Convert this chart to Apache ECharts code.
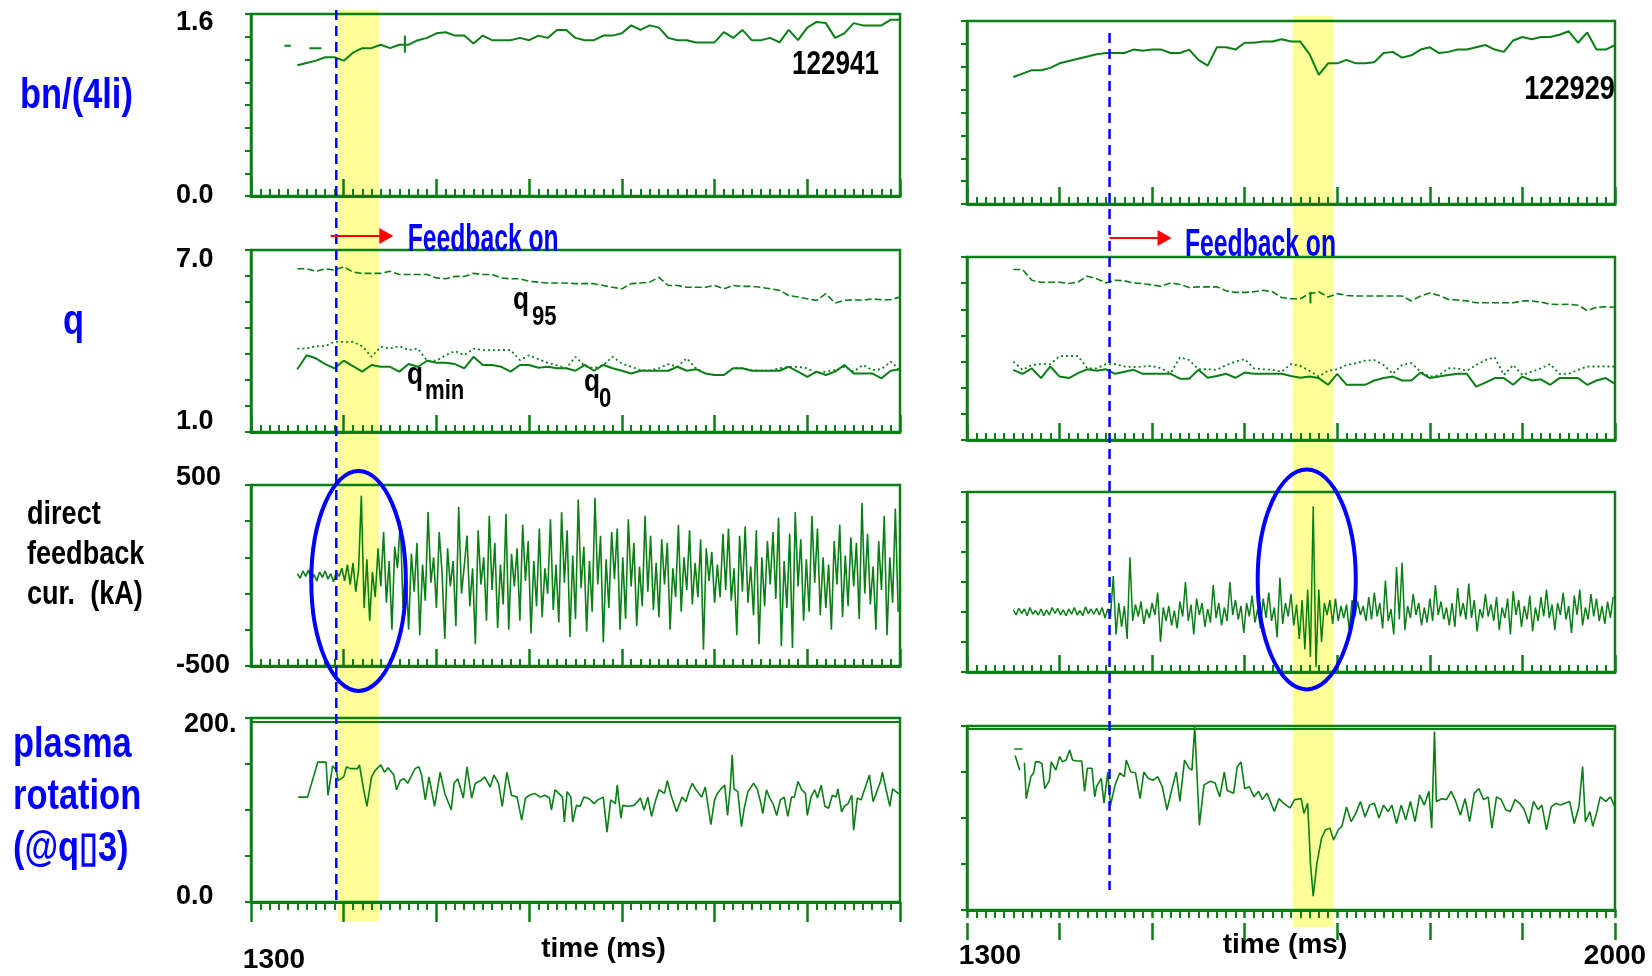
<!DOCTYPE html>
<html>
<head>
<meta charset="utf-8">
<title>Feedback on - shots 122941 / 122929</title>
<script src="https://cdn.jsdelivr.net/npm/echarts@6/dist/echarts.min.js"></script>
<style>
  html, body { margin: 0; padding: 0; background: #fff; }
  #main { width: 1652px; height: 976px; }
</style>
</head>
<body>
<div id="main"></div>
<script>
// ---- data ----
const SLOW_START = 1350, SLOW_STEP = 10;   // profile signals (ms)
const FAST_START = 1350, FAST_STEP = 3;    // feedback current (ms)

const shotLeft = '122941';
const shotRight = '122929';

const bnLeft = [1.15,1.17,1.19,1.22,1.22,1.19,1.26,1.30,1.30,1.33,
  1.30,1.33,1.33,1.37,1.39,1.43,1.44,1.41,1.41,1.34,
  1.41,1.37,1.37,1.37,1.39,1.37,1.41,1.39,1.46,1.46,
  1.39,1.37,1.37,1.41,1.41,1.43,1.50,1.46,1.50,1.48,
  1.39,1.37,1.37,1.35,1.35,1.35,1.44,1.39,1.46,1.37,
  1.37,1.39,1.35,1.46,1.37,1.48,1.53,1.52,1.39,1.43,
  1.52,1.50,1.50,1.50,1.55,1.55];
const bnLeftAltT = [1336,1343,null,1363,1376];
const bnLeftAltV = [1.32,1.32,null,1.30,1.30];
const bnLeftCrossT = [1466,1466];
const bnLeftCrossV = [1.26,1.41];

const bnRight = [1.11,1.14,1.17,1.17,1.19,1.23,1.25,1.27,1.29,1.31,
  1.32,1.32,1.32,1.35,1.34,1.35,1.35,1.32,1.32,1.35,
  1.26,1.21,1.37,1.37,1.35,1.41,1.41,1.42,1.42,1.44,
  1.42,1.42,1.31,1.13,1.23,1.23,1.26,1.23,1.23,1.24,
  1.32,1.33,1.28,1.30,1.35,1.37,1.32,1.33,1.35,1.35,
  1.37,1.39,1.35,1.33,1.43,1.46,1.44,1.46,1.46,1.48,
  1.51,1.41,1.50,1.35,1.35,1.39];

const q95Left = [6.38,6.38,6.30,6.38,6.34,6.45,6.27,6.23,6.23,6.23,
  6.30,6.19,6.19,6.19,6.19,6.08,6.05,6.13,6.13,6.23,
  6.19,6.19,6.08,6.05,6.05,5.97,5.94,5.91,5.91,5.91,
  5.89,5.89,5.89,5.83,5.77,5.72,5.89,5.91,5.94,6.10,
  5.83,5.83,5.77,5.77,5.77,5.83,5.72,5.83,5.80,5.80,
  5.77,5.72,5.67,5.50,5.45,5.39,5.34,5.56,5.25,5.34,
  5.36,5.34,5.39,5.36,5.36,5.45];
const q0Left = [3.75,3.75,3.83,3.83,3.97,3.97,3.97,3.83,3.48,3.81,
  3.75,3.83,3.70,3.75,3.35,3.35,3.53,3.67,3.53,3.75,
  3.70,3.70,3.70,3.70,3.37,3.53,3.40,3.28,3.20,3.10,
  3.48,3.17,3.10,3.21,3.48,3.26,3.15,3.04,3.04,3.10,
  3.24,3.15,3.43,3.10,2.93,2.88,2.88,3.10,3.10,3.04,
  3.02,3.02,3.10,3.15,3.15,3.10,2.93,2.99,3.04,3.15,
  2.99,3.21,3.04,3.07,3.32,3.04];
const qminLeft = [3.07,3.53,3.43,3.24,3.10,3.35,3.17,2.99,3.21,3.15,
  3.15,2.99,3.24,3.15,3.35,3.28,3.28,3.24,3.10,3.48,
  3.21,3.21,3.15,2.99,3.21,3.21,3.12,3.15,3.10,3.10,
  3.02,3.21,3.02,3.21,3.10,3.02,2.93,3.02,3.02,3.02,
  3.02,3.15,3.02,3.07,2.93,2.88,2.88,3.10,3.10,3.02,
  3.02,3.02,3.02,3.15,2.99,2.82,2.99,2.88,2.99,3.21,
  2.93,2.93,2.93,2.77,3.02,3.07];

const q95Right = [6.59,6.59,6.24,6.17,6.17,6.17,6.13,6.18,6.37,6.29,
  6.15,6.24,6.22,6.15,6.13,6.08,6.04,6.15,6.10,6.00,
  6.02,6.02,6.02,5.89,5.84,5.84,5.86,5.91,5.86,5.67,
  5.63,5.63,5.80,5.86,5.69,5.80,5.74,5.72,5.72,5.72,
  5.72,5.72,5.72,5.56,5.72,5.82,5.74,5.61,5.59,5.56,
  5.50,5.50,5.50,5.50,5.50,5.56,5.56,5.52,5.45,5.44,
  5.45,5.42,5.24,5.35,5.37,5.35];
const q95RightMarkT = [1671,1671];
const q95RightMarkV = [5.48,5.86];
const q0Right = [3.57,3.30,3.46,3.49,3.49,3.75,3.75,3.75,3.35,3.35,
  3.49,3.49,3.41,3.39,3.41,3.43,3.35,3.19,3.71,3.62,
  3.32,3.32,3.30,3.46,3.57,3.65,3.35,3.32,3.30,3.24,
  3.49,3.43,3.27,3.08,3.27,3.32,3.46,3.52,3.60,3.62,
  3.46,3.17,3.46,3.52,3.24,3.08,3.13,3.35,3.35,3.27,
  3.46,3.62,3.71,3.13,3.46,3.13,3.24,3.35,3.49,3.17,
  3.17,3.30,3.41,3.41,3.41,3.41];
const qminRight = [3.30,3.17,3.35,3.03,3.41,3.08,3.03,3.19,3.32,3.27,
  3.32,3.17,3.24,3.30,3.17,3.17,3.17,3.17,3.01,3.01,
  3.30,3.04,3.10,3.17,3.04,3.21,3.17,3.17,3.17,3.17,
  3.10,3.04,3.08,3.03,2.81,3.17,2.81,2.81,2.81,2.95,
  3.03,3.08,2.95,2.95,3.21,3.03,3.08,3.13,3.17,3.17,
  2.75,2.88,3.03,3.03,2.81,3.08,2.95,2.99,2.81,3.03,
  3.03,3.03,2.81,2.95,3.03,2.84];

const curLeft = [10,-15,25,-5,30,-25,5,-30,20,-10,
  25,-20,10,-35,20,-5,40,-30,60,-50,
  70,-90,30,440,-180,90,-250,20,-120,150,
  -60,240,-150,80,-300,160,40,300,-180,60,
  -300,120,-90,180,-330,60,-140,350,-40,100,
  -180,240,20,-350,150,-60,80,-280,380,-100,
  50,220,-170,40,-380,250,-50,100,-250,330,
  -80,180,-290,60,-160,340,-300,120,-60,150,
  -250,280,-30,190,-320,80,-170,260,-230,40,
  -100,310,-190,60,-260,350,-40,250,-340,110,
  -240,420,-70,160,-310,80,-200,430,-50,220,
  -370,90,-180,240,-20,260,-300,100,-240,310,
  -60,180,-280,50,-170,330,-90,220,-190,70,
  -230,200,-50,180,-300,40,-120,280,-200,100,
  -80,250,-160,70,-120,200,-410,150,-30,130,
  -150,60,-120,230,-80,260,-140,40,-330,220,
  -90,270,-150,50,-220,250,-380,100,-170,190,
  -50,240,-130,320,-390,80,-180,230,-400,350,
  -60,200,-250,90,-200,330,-40,260,-220,100,
  -180,60,-300,190,-50,280,-230,110,-170,210,
  -60,180,-240,400,-100,230,-160,50,-300,190,
  -80,330,-330,100,-150,370,-200];
const curRight = [15,-20,25,-10,20,-25,30,-15,10,-20,
  20,-25,15,-20,30,-10,25,-20,15,-25,
  20,-15,30,-20,10,-25,35,-10,20,-15,
  25,-20,30,-40,20,-30,239,-150,60,-100,
  40,-180,364,-60,50,-30,70,-80,20,-40,
  60,-20,130,-200,30,-60,40,-90,10,-110,
  70,-30,200,-60,50,-150,90,-20,60,-100,
  20,-70,180,-40,60,-90,30,-60,200,-20,
  80,-50,40,-140,60,-30,110,-70,20,-110,
  90,-40,130,-60,30,-170,230,-80,60,-30,
  120,-90,50,-180,80,-250,150,-300,705,-368,
  150,-200,60,-20,80,-80,90,-60,40,-40,
  50,-120,80,-30,70,-20,40,-60,100,-50,
  130,-30,60,-110,210,-60,20,-150,300,-50,
  330,-120,40,-40,120,-20,60,-90,30,-70,
  90,-60,180,-20,70,-50,30,-90,60,-100,
  160,-30,60,-50,190,-40,80,-130,20,-40,
  120,-30,50,-60,100,-120,30,-40,90,-150,
  140,-20,80,-100,40,-50,110,-130,30,-60,
  100,-30,150,-40,50,-120,60,-20,130,-50,
  40,-140,110,-20,150,-90,30,-50,120,-30,
  90,-60,40,-80,70,-40,100];

const rotLeftT = [1351,1361,1372,1381,1383,1388,1392,1394,1400,1403,
  1407,1415,1417,1421,1425,1430,1434,1440,1444,1448,
  1454,1457,1461,1465,1469,1477,1481,1484,1488,1492,
  1498,1504,1509,1516,1519,1523,1529,1533,1538,1542,
  1548,1552,1558,1562,1567,1571,1576,1581,1587,1592,
  1596,1600,1606,
  1612,1617,1622,1624,1628,1632,1636,1638,1641,1645,
  1647,1651,1655,1659,1663,1666,1670,1674,1680,1684,
  1688,1693,1695,1699,1701,1707,1713,1717,1720,1724,
  1728,1732,1736,1740,1746,1749,1753,1759,1765,1769,
  1773,1776,1780,1786,1790,1796,1800,1803,1807,1811,
  1814,1817,1819,1821,1825,1829,1832,1836,1842,1846,
  1850,1852,1856,1859,1863,1867,1871,1875,1879,1883,
  1886,1890,1894,1898,1900,1904,1908,1911,1915,1919,
  1923,1927,1931,1933,1937,1940,1944,1948,1950,1954,
  1958,1964,1967,1971,1975,1979,1981,1985,1989,1992,
  1998,2000];
const rotLeftV = [114,114,152,152,116,148,143,132,136,147,
  145,145,149,125,104,136,143,149,141,146,
  138,122,132,134,129,145,147,138,111,136,
  104,141,118,100,129,134,113,147,113,129,
  132,136,125,138,129,104,141,116,114,89,
  113,116,118,
  114,116,113,100,122,118,114,87,120,114,
  87,105,104,114,113,111,107,111,114,76,
  111,107,127,91,105,104,105,109,113,100,
  114,93,109,122,118,132,116,98,114,109,
  122,129,122,114,125,84,111,118,123,127,
  94,125,160,123,120,82,102,120,129,123,
  107,96,122,114,107,94,111,114,93,114,
  114,131,122,118,94,114,122,113,127,104,
  102,116,114,123,98,104,107,116,78,113,
  111,129,138,109,120,131,141,122,104,123,
  118,118];

const rotRightHeadT = [1351,1360,null,1352,1357];
const rotRightHeadV = [175,175,null,168,152];
const rotRightT = [1362,1364,1369,1372,1374,1378,1381,1384,1389,1391,
  1396,1400,1403,1407,1411,1414,1418,1424,1427,1430,
  1435,1438,1440,1445,1448,1452,1455,1460,1465,1470,
  1472,1477,1482,1487,1491,1496,1501,1506,1511,1516,
  1521,1526,1530,1535,1540,1543,1546,1548,1551,1556,
  1563,1568,1573,1578,1581,1588,1592,1596,1600,1605,
  1610,1615,1619,1624,1632,1637,1642,1649,1654,1661,
  1664,1668,1671,1674,1678,1683,1687,1692,1696,1701,
  1705,1710,1715,1720,1725,1730,1735,1740,1745,1750,
  1755,1759,1764,1769,1774,1779,1784,1789,1794,1799,
  1802,1805,1807,1813,1818,1823,1828,1833,1838,1843,
  1848,1853,1858,1863,1867,1872,1877,1882,1887,1892,
  1897,1902,1907,1912,1917,1921,1926,1931,1936,1941,
  1946,1951,1956,1961,1965,1968,1973,1976,1980,1984,
  1990,1995,2000];
const rotRightV = [160,121,145,149,161,161,159,132,141,161,
  152,167,161,163,174,163,162,162,129,154,
  154,123,134,143,116,150,114,136,149,145,
  163,150,149,121,150,143,141,145,134,109,
  130,150,118,163,154,152,199,199,92,136,
  140,138,123,150,130,127,156,161,132,134,
  123,129,120,127,107,121,116,111,120,121,
  105,116,51,15,51,78,87,89,76,87,
  91,112,96,105,118,101,114,116,100,114,
  107,114,94,114,98,118,96,125,114,129,
  89,194,118,121,120,129,118,103,121,96,
  127,132,120,123,89,123,120,109,107,120,
  116,109,94,118,109,114,87,112,116,114,
  116,118,94,112,156,96,107,91,105,123,
  118,123,112];

// axis ticks / labels
const yTicksBn = [0, 0.2, 0.4, 0.6, 0.8, 1.0, 1.2, 1.4, 1.6];
const yTicksQ = [1, 1.857, 2.714, 3.571, 4.429, 5.286, 6.143, 7];
const yTicksCurL = [-500, -300, -100, 100, 300, 500];
const yTicksCurR = [-400, -200, 0, 200, 400, 600, 800];
const yTicksRot = [0, 50, 100, 150, 200];
const yLabelsBn = ['0.0', '1.6'];
const yLabelsQ = ['1.0', '7.0'];
const yLabelsCur = ['-500', '500'];
const yLabelsRot = ['0.0', '200.'];
const xLabelsLeft = [1300];
const xLabelsRight = [1300, 2000];

// annotation times (ms)
const feedbackOnLeft = 1392, feedbackOnRight = 1454;
const bandLeft = [1393.7, 1438], bandRight = [1652, 1696];

// ---- chart ----
const G = '#0a7f15';
const FN = "'Liberation Sans', Arial, Helvetica, sans-serif";
const SQ = 0.82;   // horizontal squeeze used for the narrow lettering

const stepPairs = (vals, start, step) => vals.map((v, i) => [start + i * step, v]);
const pairs = (ts, vs) => ts.map((t, i) => t === null ? [NaN, '-'] : [t, vs[i]]);

const boxes = [
  {left: 251, top: 14, width: 649, height: 182},
  {left: 251, top: 250, width: 649, height: 182},
  {left: 251, top: 485, width: 649, height: 181},
  {left: 251, top: 718, width: 649, height: 184},
  {left: 967, top: 21, width: 648, height: 183},
  {left: 967, top: 257, width: 648, height: 183},
  {left: 967, top: 492, width: 648, height: 180},
  {left: 967, top: 726, width: 648, height: 184}
];
const yRange = [[0, 1.6], [1, 7], [-500, 500], [0, 200], [0, 1.6], [1, 7], [-400, 800], [0, 200]];
const yTickSets = [yTicksBn, yTicksQ, yTicksCurL, yTicksRot, yTicksBn, yTicksQ, yTicksCurR, yTicksRot];
const yLabelSets = [yLabelsBn, yLabelsQ, yLabelsCur, yLabelsRot];
const yLabelPad = [
  {min: [0, 0, 0, 0], max: [17, 0, 0, 0]},
  {min: [0, 0, 20, 0], max: [20, 0, 0, 0]},
  {min: [0, 0, 0, 0], max: [0, 0, 14, 0]},
  {min: [0, 0, 10, 0], max: [14, 0, 0, 8]}
];
const tickText = {fontSize: 27, fontWeight: 'bold', fontFamily: FN, color: '#000'};

const chart = echarts.init(document.getElementById('main'));

const grids = boxes.map(b => Object.assign({
  show: true, borderColor: G, borderWidth: 2.5, outerBoundsMode: 'none'
}, b));

const yAxes = boxes.map((b, i) => {
  const [mn, mx] = yRange[i];
  const ax = {
    type: 'value', gridIndex: i, min: mn, max: mx,
    axisLine: {show: true, lineStyle: {color: G, width: 2.5}},
    axisTick: {show: true, inside: false, length: 6, customValues: yTickSets[i], lineStyle: {color: G, width: 2}},
    splitLine: {show: false},
    axisLabel: {show: false}
  };
  if (i < 4) {
    const names = yLabelSets[i];
    ax.axisLabel = {
      show: true, customValues: [mn, mx], align: 'left', margin: 75,
      formatter: v => v === mx ? '{t|' + names[1] + '}' : '{b|' + names[0] + '}',
      rich: {
        t: Object.assign({padding: yLabelPad[i].max}, tickText),
        b: Object.assign({padding: yLabelPad[i].min}, tickText)
      }
    };
  }
  return ax;
});

const xAxes = boxes.map((b, i) => {
  const bottomRow = i === 3 || i === 7;
  return {
    type: 'value', gridIndex: i, min: 1300, max: 2000, interval: 100,
    axisLine: {show: true, onZero: false, lineStyle: {color: G, width: 3}},
    axisTick: {show: true, inside: !bottomRow, length: i === 7 ? 8 : (bottomRow ? 20 : 17), lineStyle: {color: G, width: 2.5}},
    minorTick: {show: true, splitNumber: 10, length: bottomRow ? 8 : 7, lineStyle: {color: G, width: 2}},
    splitLine: {show: false},
    axisLabel: {show: false}
  };
});
// bottom-left axis: label 1300 + title
Object.assign(xAxes[3], {
  name: 'time (ms)', nameLocation: 'middle', nameGap: 33, nameMoveOverlap: false,
  nameTextStyle: Object.assign({padding: [0, 0, 0, 56]}, tickText, {fontSize: 28}),
  axisLabel: {
    show: true, margin: 44, align: 'center',
    formatter: v => xLabelsLeft.includes(v) ? '{a|' + v + '}' : '',
    rich: {a: Object.assign({padding: [0, 0, 0, 46]}, tickText, {fontSize: 28})}
  }
});
Object.assign(xAxes[7], {
  name: 'time (ms)', nameLocation: 'middle', nameGap: 21, nameMoveOverlap: false,
  nameTextStyle: Object.assign({padding: [0, 12, 0, 0]}, tickText, {fontSize: 28})
});
// detached major ticks + end labels under the bottom-right panel
xAxes.push({
  type: 'value', gridIndex: 7, min: 1300, max: 2000, interval: 100, position: 'bottom', offset: 13,
  axisLine: {show: false, onZero: false},
  axisTick: {show: true, inside: false, length: 17, lineStyle: {color: G, width: 2.5}},
  minorTick: {show: false},
  splitLine: {show: false},
  axisLabel: {
    show: true, margin: 19, align: 'center',
    formatter: v => !xLabelsRight.includes(v) ? '' : (v === 1300 ? '{a|' + v + '}' : '{b|' + v + '}'),
    rich: {
      a: Object.assign({padding: [0, 0, 0, 46]}, tickText, {fontSize: 28}),
      b: Object.assign({}, tickText, {fontSize: 28})
    }
  }
});

function line(gi, data, style, extra) {
  return Object.assign({
    type: 'line', xAxisIndex: gi, yAxisIndex: gi, data: data,
    symbol: 'none', showSymbol: false, silent: true, animation: false,
    emphasis: {disabled: true}, z: 3,
    lineStyle: Object.assign({color: G, width: 2}, style)
  }, extra || {});
}
const topRule = y => ({
  silent: true, symbol: ['none', 'none'], animation: false, label: {show: false},
  lineStyle: {color: G, width: 2, type: 'solid'}, data: [{yAxis: y}]
});

const series = [
  line(0, stepPairs(bnLeft, SLOW_START, SLOW_STEP), {width: 2}),
  line(0, pairs(bnLeftAltT, bnLeftAltV), {width: 2}),
  line(0, pairs(bnLeftCrossT, bnLeftCrossV), {width: 2}),
  line(1, stepPairs(q95Left, SLOW_START, SLOW_STEP), {width: 1.6, type: [7, 3]}),
  line(1, stepPairs(q0Left, SLOW_START, SLOW_STEP), {width: 1.8, type: [2, 3]}),
  line(1, stepPairs(qminLeft, SLOW_START, SLOW_STEP), {width: 2}),
  line(2, stepPairs(curLeft, FAST_START, FAST_STEP), {width: 1.6}),
  line(3, pairs(rotLeftT, rotLeftV), {width: 1.6}, {markLine: topRule(195.5)}),
  line(4, stepPairs(bnRight, SLOW_START, SLOW_STEP), {width: 2}),
  line(5, stepPairs(q95Right, SLOW_START, SLOW_STEP), {width: 1.6, type: [7, 3]}),
  line(5, pairs(q95RightMarkT, q95RightMarkV), {width: 2}),
  line(5, stepPairs(q0Right, SLOW_START, SLOW_STEP), {width: 1.8, type: [2, 3]}),
  line(5, stepPairs(qminRight, SLOW_START, SLOW_STEP), {width: 2}),
  line(6, stepPairs(curRight, FAST_START, FAST_STEP), {width: 1.5}),
  line(7, pairs(rotRightHeadT, rotRightHeadV), {width: 1.6}),
  line(7, pairs(rotRightT, rotRightV), {width: 1.6}, {markLine: topRule(197)})
];

chart.setOption({
  animation: false,
  backgroundColor: '#fff',
  grid: grids,
  xAxis: xAxes,
  yAxis: yAxes,
  series: series
});

// ---- annotations ----
const px = (gi, x, y) => chart.convertToPixel({gridIndex: gi}, [x, y || 0]);

function text(x, y, str, size, color, opts) {
  opts = opts || {};
  return {
    type: 'text', z: 100, x: x, y: y, scaleX: opts.scaleX || SQ,
    style: {
      text: str, x: 0, y: 0, fill: color,
      font: 'bold ' + size + 'px ' + FN,
      lineHeight: opts.lineHeight,
      textAlign: opts.align || 'left', align: opts.align || 'left',
      textVerticalAlign: 'middle', verticalAlign: 'middle'
    }
  };
}
function arrow(x1, x2, y) {
  return [
    {type: 'line', z: 100, shape: {x1: x1, y1: y, x2: x2 - 12, y2: y}, style: {stroke: '#ff0000', lineWidth: 2}},
    {type: 'polygon', z: 100, shape: {points: [[x2 - 14, y - 8], [x2, y], [x2 - 14, y + 8]]}, style: {fill: '#ff0000'}}
  ];
}

const els = [];
// yellow bands
[[0, bandLeft, 10, 921], [4, bandRight, 16, 927]].forEach(([gi, b, y1, y2]) => {
  const xa = px(gi, b[0])[0], xb = px(gi, b[1])[0];
  els.push({type: 'rect', z: -1, shape: {x: xa, y: y1, width: xb - xa, height: y2 - y1}, style: {fill: '#ffff99'}});
});
// feedback-on dashed markers
[[0, feedbackOnLeft, 10, 903], [4, feedbackOnRight, 33, 890]].forEach(([gi, t, y1, y2]) => {
  const x = px(gi, t)[0];
  els.push({type: 'line', z: 100, shape: {x1: x, y1: y1, x2: x, y2: y2},
    style: {stroke: '#0000ff', lineWidth: 2.5, lineDash: [10, 6]}});
});
// circled spikes
[[2, 1416, -30, 1467], [6, 1667, 217, 1720]].forEach(([gi, t, v, tEdge]) => {
  const c = px(gi, t, v);
  const rx = px(gi, tEdge, v)[0] - c[0];
  els.push({type: 'ellipse', z: 100, shape: {cx: c[0], cy: c[1], rx: rx, ry: 110},
    style: {fill: 'none', stroke: '#0000ff', lineWidth: 4}});
});
// "Feedback on" arrows and captions
els.push(...arrow(px(1, 1386)[0], px(1, 1453.5)[0], 236));
els.push(...arrow(px(5, feedbackOnRight)[0], px(5, 1521)[0], 238));
els.push(text(px(1, 1469)[0], 241, 'Feedback on', 38, '#0000ff', {scaleX: 0.65}));
els.push(text(px(5, 1535.5)[0], 246, 'Feedback on', 38, '#0000ff', {scaleX: 0.65}));

// shot numbers
els.push(text(879, 65, shotLeft, 33, '#000', {align: 'right', scaleX: 0.79}));
els.push(text(1615, 90, shotRight, 34, '#000', {align: 'right', scaleX: 0.8}));

// q curve labels
els.push(text(513, 300, 'q', 32, '#000'), text(532, 318, '95', 27, '#000'));
els.push(text(407, 375, 'q', 32, '#000'), text(425, 392, 'min', 27, '#000'));
els.push(text(584, 382, 'q', 32, '#000'), text(599, 400, '0', 27, '#000'));

// row titles
els.push(text(20, 96, 'bn/(4li)', 42, '#0000ff'));
els.push(text(63, 322, 'q', 42, '#0000ff'));
els.push(text(27, 555, 'direct\nfeedback\ncur.  (kA)', 33, '#000', {lineHeight: 40}));
els.push(text(13, 797, 'plasma\nrotation\n(@q\u25AF3)', 42, '#0000ff', {lineHeight: 52}));

chart.setOption({graphic: {elements: els}});
</script>
</body>
</html>
